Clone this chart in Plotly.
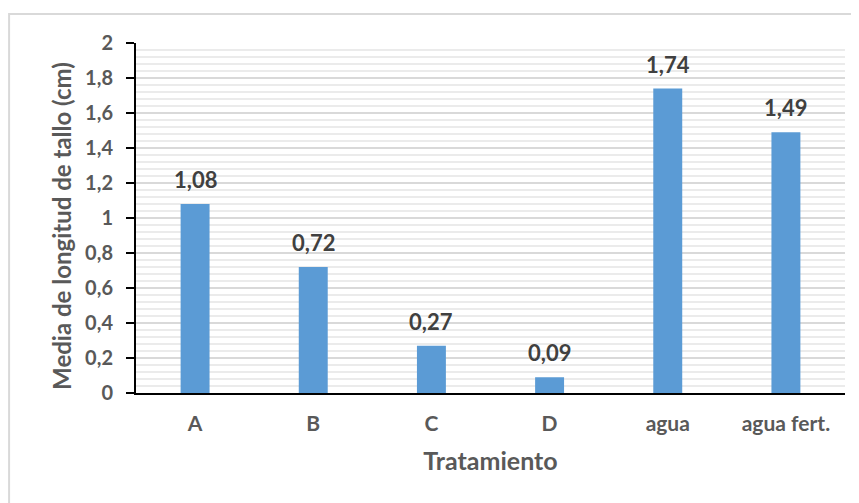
import plotly.graph_objects as go

categories = ["A", "B", "C", "D", "agua", "agua fert."]
values = [1.08, 0.72, 0.27, 0.09, 1.74, 1.49]
y_tick_vals = [0, 0.2, 0.4, 0.6, 0.8, 1, 1.2, 1.4, 1.6, 1.8, 2]
y_tick_text = ["0", "0,2", "0,4", "0,6", "0,8", "1", "1,2", "1,4", "1,6", "1,8", "2"]
x_title = "Tratamiento"
y_title = "Media de longitud de tallo (cm)"

FONT = "Lato, Calibri, Carlito, sans-serif"
GRAY = "#595959"

fig = go.Figure()
fig.add_trace(go.Bar(
    x=categories, y=values,
    marker=dict(color="#5b9bd5", line=dict(width=0)),
    width=0.245,
    hoverinfo="skip",
))

for c, v in zip(categories, values):
    fig.add_annotation(
        x=c, y=v, text=f"{v:.2f}".replace(".", ","),
        showarrow=False, yanchor="bottom", yshift=9,
        font=dict(family=FONT, size=22, color="#404040", weight="bold"),
    )

# y-axis title placed as a rotated annotation
fig.add_annotation(
    xref="paper", yref="paper", x=-0.106, y=0.477,
    xanchor="center", yanchor="middle",
    text=y_title, textangle=-90, showarrow=False,
    font=dict(family=FONT, size=24, color=GRAY, weight="bold"),
)

fig.update_layout(
    width=851, height=495,
    margin=dict(l=128, r=14, t=35, b=110),
    paper_bgcolor="white", plot_bgcolor="white",
    showlegend=False,
    font=dict(family=FONT, color=GRAY),
    shapes=[dict(
        type="rect", xref="paper", yref="paper",
        x0=-0.179, x1=1.03, y0=-0.33, y1=1.083,
        line=dict(color="#d9d9d9", width=2), fillcolor="rgba(0,0,0,0)",
        layer="below",
    )],
)

fig.update_xaxes(
    type="category",
    showline=True, linecolor="black", linewidth=2,
    showgrid=False,
    ticks="", ticklabelstandoff=11,
    tickfont=dict(family=FONT, size=21, color=GRAY, weight="bold"),
    title=dict(text=x_title, standoff=18,
               font=dict(family=FONT, size=25, color=GRAY, weight="bold")),
)

fig.update_yaxes(
    range=[0, 2],
    tickvals=y_tick_vals, ticktext=y_tick_text,
    showline=True, linecolor="black", linewidth=2,
    ticks="outside", ticklen=8, tickwidth=2, tickcolor="black",
    ticklabelstandoff=9,
    showgrid=True, gridcolor="#d9d9d9", gridwidth=2,
    minor=dict(dtick=0.04, showgrid=True, gridcolor="#ebebeb", gridwidth=2, ticks=""),
    zeroline=False,
    tickfont=dict(family=FONT, size=20, color=GRAY, weight="bold"),
)

fig.write_html("out.html")
